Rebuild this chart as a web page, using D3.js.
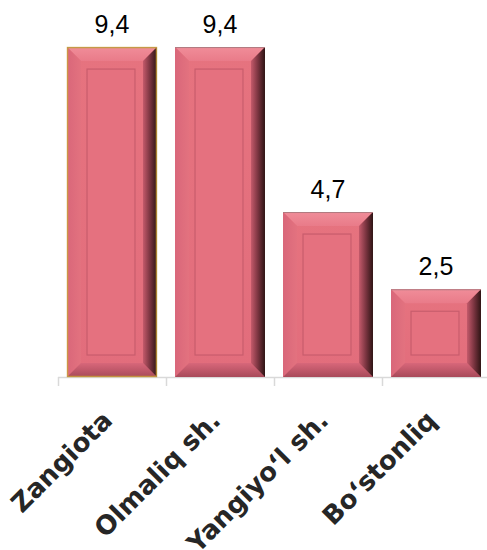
<!DOCTYPE html>
<html><head><meta charset="utf-8">
<script src="https://cdn.jsdelivr.net/npm/d3@7"></script>
<style>html,body{margin:0;padding:0;background:#fff;}svg{display:block;}</style>
</head><body>
<svg id="chart" width="487" height="550"></svg>
<script>
const categories = ["Zangiota", "Olmaliq sh.", "Yangiyo‘l sh.", "Bo‘stonliq"];
const values = [9.4, 9.4, 4.7, 2.5];
const valueLabels = ["9,4", "9,4", "4,7", "2,5"];

const svg = d3.select("#chart");
const x = d3.scaleBand().domain(categories).range([58, 490]).paddingInner(0.167).paddingOuter(0.0835);
const y = d3.scaleLinear().domain([0, 10]).range([377, 26]);

const defs = svg.append("defs");
function lg(id, x1, y1, x2, y2, stops) {
  const g = defs.append("linearGradient").attr("id", id).attr("x1", x1).attr("y1", y1).attr("x2", x2).attr("y2", y2);
  stops.forEach(s => g.append("stop").attr("offset", s[0]).attr("stop-color", s[1]));
}
lg("gTop", 0, 0, 0, 1, [[0, "#f08d99"], [1, "#e97b89"]]);
lg("gLeft", 0, 0, 1, 0, [[0, "#d9677a"], [1, "#e3727f"]]);
lg("gRight", 0, 0, 1, 0, [[0, "#c45a6b"], [0.5, "#7a3440"], [1, "#2e1414"]]);
lg("gBottom", 0, 0, 0, 1, [[0, "#d8677a"], [1, "#a84a5a"]]);
lg("gFace", 0, 0, 0, 1, [[0, "#e6737f"], [1, "#e26d7c"]]);

// axis
const axisG = svg.append("g");
axisG.append("line").attr("x1", x.range()[0]).attr("x2", 487).attr("y1", y(0) + 0.5).attr("y2", y(0) + 0.5)
  .attr("stroke", "#d9d9d9").attr("stroke-width", 1.5);
const bounds = categories.map(c => x(c) - x.step() * x.paddingInner() / 2);
axisG.selectAll(".tk").data(bounds).join("line")
  .attr("x1", d => Math.round(d) + 0.5).attr("x2", d => Math.round(d) + 0.5)
  .attr("y1", y(0)).attr("y2", y(0) + 9).attr("stroke", "#d9d9d9").attr("stroke-width", 1.5);

const b = 14, inset = 20;
const bars = svg.selectAll(".bar").data(categories.map((c, i) => ({c, v: values[i], i}))).join("g").attr("class", "bar");
bars.each(function(d) {
  const g = d3.select(this);
  const x0 = x(d.c), x1 = x0 + x.bandwidth(), y0 = y(d.v), y1 = y(0);
  const pts = a => a.map(p => p.join(",")).join(" ");
  g.append("rect").attr("x", x0).attr("y", y0).attr("width", x1 - x0).attr("height", y1 - y0).attr("fill", "url(#gFace)");
  g.append("polygon").attr("points", pts([[x0, y0], [x1, y0], [x1 - b, y0 + b], [x0 + b, y0 + b]])).attr("fill", "url(#gTop)");
  g.append("polygon").attr("points", pts([[x0, y0], [x0 + b, y0 + b], [x0 + b, y1 - b], [x0, y1]])).attr("fill", "url(#gLeft)");
  g.append("polygon").attr("points", pts([[x0, y1], [x0 + b, y1 - b], [x1 - b, y1 - b], [x1, y1]])).attr("fill", "url(#gBottom)");
  g.append("polygon").attr("points", pts([[x1, y0], [x1, y1], [x1 - b, y1 - b], [x1 - b, y0 + b]])).attr("fill", "url(#gRight)");
  g.append("rect").attr("x", x0 + inset).attr("y", y0 + inset + 2).attr("width", x1 - x0 - 2 * inset - 2)
    .attr("height", Math.max(0, y1 - y0 - 2 * inset - 4)).attr("fill", "#e5717f")
    .attr("stroke", "#c85d6d").attr("stroke-width", 1.2);
  g.append("line").attr("x1", x0).attr("x2", x1).attr("y1", y0 + 0.5).attr("y2", y0 + 0.5).attr("stroke", "#b07a80").attr("stroke-width", 1);
  if (d.i === 0) {
    g.append("rect").attr("x", x0 + 0.5).attr("y", y0 + 0.5).attr("width", x1 - x0 - 1).attr("height", y1 - y0 - 1)
      .attr("fill", "none").attr("stroke", "#c9a13a").attr("stroke-width", 1.5).attr("opacity", 0.8);
  }
});

svg.selectAll(".val").data(values).join("text").attr("class", "val")
  .attr("x", (d, i) => x(categories[i]) + x.bandwidth() / 2)
  .attr("y", d => y(d) - 14)
  .attr("text-anchor", "middle")
  .attr("font-family", "Liberation Sans, Arial, sans-serif").attr("font-size", 25).attr("fill", "#000")
  .text((d, i) => valueLabels[i]);

svg.selectAll(".cat").data(categories).join("text").attr("class", "cat")
  .attr("transform", c => `translate(${x(c) + x.bandwidth() / 2 + 2},${y(0) + 45}) rotate(-45)`)
  .attr("text-anchor", "end")
  .attr("font-family", "DejaVu Sans, sans-serif").attr("font-weight", "bold").attr("font-size", 26).attr("fill", "#262626")
  .text(c => c);
</script>
</body></html>
